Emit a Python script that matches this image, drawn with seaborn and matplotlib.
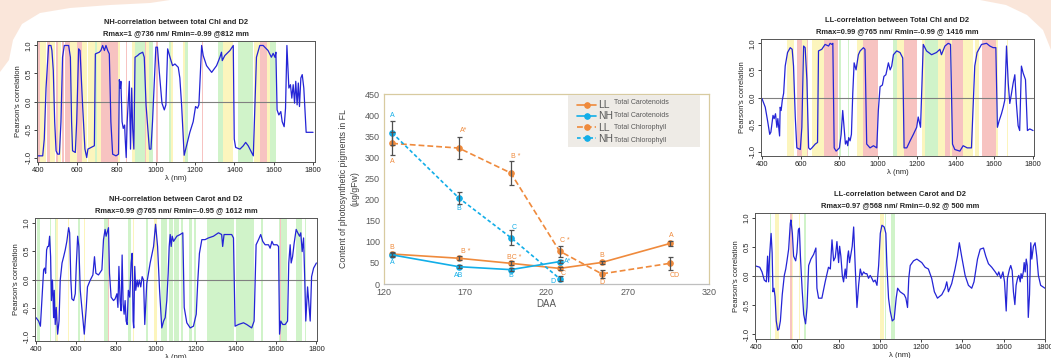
import numpy as np
import pandas as pd
import matplotlib
matplotlib.use("Agg")
import matplotlib.pyplot as plt
import seaborn as sns
from matplotlib.patches import Rectangle, Polygon

sns.set_style("white")
plt.rcParams['font.family'] = ['Liberation Sans', 'DejaVu Sans']

# ---------------- centre chart: pigments vs DAA ----------------
daa = [125, 166, 198, 228, 254, 296]
ll_carot = [71, 61, 49, 37, 51, 96]
ll_carot_err = [5, 5, 5, 4, 4, 5]
nh_carot = [69, 41, 34, 53]
nh_carot_err = [5, 4, 3, 4]
ll_chl = [333, 322, 263, 78, 24, 49]
ll_chl_err = [28, 27, 28, 13, 9, 16]
nh_chl = [358, 204, 110, 13]
nh_chl_err = [28, 15, 17, 5]

# letters (x, y, text, series)
letters = [
    (125, 399, "A", "NH"), (125, 290, "A", "LL"), (125, 86, "B", "LL"), (125, 50, "A", "NH"),
    (169, 363, "A*", "LL"), (166, 179, "B", "NH"), (170, 77, "B *", "LL"), (166, 21, "AB", "NH"),
    (201, 302, "B *", "LL"), (200, 133, "C", "NH"), (200, 62, "BC *", "LL"), (198, 20, "B", "NH"),
    (231, 102, "C *", "LL"), (230, 24, "C", "LL"), (224, 7, "D", "NH"), (233, 53, "A*", "NH"),
    (254, 67, "B", "LL"), (254, 4, "D", "LL"), (297, 114, "A", "LL"), (299, 21, "CD", "LL"),
]

# ---------------- correlation spectra ----------------
wl1 = [400, 424, 432, 441, 454, 466, 471, 478, 485, 492, 500, 509, 517, 525, 534, 556, 565, 571, 576, 590,
       597, 607, 614, 627, 639, 648, 654, 670, 687, 692, 712, 720, 729, 738, 746, 755, 763, 771, 780, 797,
       810, 814, 819, 822, 828, 834, 841, 844, 849, 854, 865, 871, 877, 882, 888, 894, 907, 916, 933, 941,
       950, 967, 975, 983, 1000, 1008, 1017, 1031, 1043, 1051, 1060, 1072, 1085, 1097, 1114, 1122, 1131,
       1144, 1156, 1173, 1190, 1202, 1212, 1219, 1233, 1241, 1258, 1284, 1309, 1326, 1334, 1338, 1351,
       1377, 1394, 1399, 1406, 1428, 1445, 1457, 1470, 1487, 1496, 1512, 1529, 1546, 1571, 1588, 1597,
       1606, 1611, 1617, 1626, 1636, 1643, 1653, 1660, 1667, 1677, 1685, 1692, 1699, 1706, 1712, 1719,
       1725, 1731, 1738, 1745, 1753, 1765, 1790, 1800]
r1 = [-0.97, -0.97, -0.67, 0.24, 1.0, 1.0, 0.91, 0.55, -0.36, -0.88, -0.94, -0.94, -0.36, 0.79, 1.0, 1.0,
      0.79, -0.36, -0.88, -0.91, -0.36, 0.94, 0.91, -0.06, -0.85, -1.0, -0.85, -0.82, -0.79, 0.85, 0.88,
      0.91, 1.0, 0.91, 1.0, 0.91, 0.85, -0.36, -0.94, -0.97, -0.94, 0.39, 0.24, 0.36, -0.36, -0.48, -0.42,
      -0.67, -1.0, -0.36, 0.36, -0.85, 0.24, -0.48, -0.85, 0.79, 0.82, 0.85, 0.88, 0.79, -0.06, -0.85,
      -0.85, -0.36, 0.97, 0.97, 0.55, -0.03, -0.15, -0.06, 0.94, 0.79, 0.64, 0.67, 0.61, 0.42, -0.06,
      -0.96, -0.79, -0.55, -0.36, -0.09, -0.12, -0.06, 1.0, 0.82, 0.64, 0.52, 0.64, 0.79, 0.88, 0.73, 0.82,
      0.91, 1.0, -0.67, -0.82, -0.85, -0.79, -0.73, -0.79, -0.91, -0.97, 0.79, 1.0, 1.0, 0.91, 0.79, 0.86,
      0.79, 0.88, -0.15, -0.24, -0.18, -0.36, -0.45, -0.12, 1.0, 0.24, 0.30, 0.06, 0.30, -0.03, 0.36,
      -0.06, 0.33, -0.09, 0.42, 0.48, 0.24, -0.55, -0.55, -0.55]
red1 = [(400, 412), (445, 462), (490, 500), (520, 530), (540, 565), (600, 625), (722, 808), (848, 853),
        (945, 952), (1000, 1012), (1236, 1242), (1530, 1565), (1665, 1669)]
yel1 = [(412, 440), (462, 488), (500, 518), (565, 598), (625, 650), (655, 720), (808, 818), (880, 892),
        (952, 965), (1075, 1088), (1140, 1148), (1340, 1395), (1500, 1530), (1565, 1580)]
grn1 = [(692, 700), (895, 945), (965, 985), (1065, 1075), (1148, 1165), (1315, 1340), (1420, 1495),
        (1580, 1612)]

wl2 = [400, 413, 422, 430, 438, 443, 448, 453, 458, 463, 468, 473, 477, 482, 485, 488, 491, 496, 501, 508,
       515, 521, 530, 538, 546, 554, 563, 568, 574, 579, 588, 596, 601, 608, 614, 621, 629, 641, 651, 657,
       671, 684, 692, 699, 712, 729, 737, 745, 750, 757, 762, 767, 775, 787, 795, 804, 809, 814, 820, 825,
       830, 835, 840, 845, 850, 855, 861, 868, 875, 880, 885, 888, 893, 898, 905, 910, 916, 923, 930, 937,
       943, 953, 970, 987, 997, 1007, 1017, 1028, 1037, 1045, 1053, 1060, 1065, 1070, 1075, 1080, 1087,
       1103, 1120, 1133, 1140, 1153, 1170, 1186, 1200, 1208, 1216, 1228, 1244, 1261, 1286, 1311, 1327,
       1332, 1339, 1352, 1377, 1386, 1394, 1411, 1436, 1452, 1477, 1489, 1499, 1511, 1522, 1532, 1544,
       1561, 1569, 1578, 1586, 1603, 1611, 1616, 1622, 1632, 1644, 1656, 1662, 1669, 1674, 1681, 1689,
       1699, 1707, 1716, 1722, 1729, 1736, 1742, 1747, 1756, 1764, 1769, 1776, 1786, 1800]
r2 = [-0.67, -0.73, -0.82, -0.31, 0.17, 0.20, 0.11, 0.52, 0.58, 0.58, 0.76, 0.40, -0.37, -0.01, -0.31,
      -0.67, -0.19, -0.79, -0.49, -0.96, -0.73, -0.01, 0.29, 0.40, 0.52, 0.67, 0.91, 0.82, -0.01, -0.34,
      -0.37, -0.25, 0.23, 0.76, 0.58, -0.19, -0.49, -0.96, -0.49, -0.13, -0.01, 0.08, 0.40, 0.11, 0.08,
      0.17, 0.70, 0.88, 0.76, 0.85, 0.91, 0.11, -0.31, -0.37, -0.34, -0.25, -0.49, 0.23, -0.37, -0.55,
      0.43, -0.43, -0.61, -0.37, -0.73, -0.79, -0.19, -0.31, 0.29, 0.46, -0.73, -0.85, 0.23, -0.19, -0.01,
      -0.13, -0.01, -0.13, 0.05, -0.01, -0.79, -0.07, 0.29, 0.58, 0.97, 0.58, -0.19, -0.85, -0.73, -0.67,
      -0.37, 0.11, 0.58, 0.79, 0.58, 0.76, 0.67, 0.76, 0.79, 0.82, -0.49, -0.76, -0.85, -0.82, -0.61,
      -0.01, 0.46, 0.70, 0.70, 0.73, 0.76, 0.82, 0.79, 0.58, 0.79, 0.79, 0.79, 0.73, -0.82, -0.79, -0.76,
      -0.79, -0.85, -0.73, 0.61, 0.70, 0.79, 0.67, 0.61, 0.61, 0.55, 0.67, 0.61, 0.61, 0.58, -0.96, -0.73,
      -0.79, -0.79, -0.73, 0.29, 0.61, 0.29, 0.40, 0.64, 0.88, 0.82, 0.76, 0.82, 0.49, 0.73, -0.01, -0.73,
      -0.13, -0.49, -0.73, 0.05, 0.20, 0.29]
red2 = [(760, 765), (1620, 1624)]
yel2 = [(501, 508), (562, 567), (640, 644), (748, 752), (885, 890), (990, 1003), (1475, 1480), (1702, 1708)]
grn2 = [(405, 422), (468, 473), (493, 500), (608, 618), (740, 758), (860, 875), (950, 958), (1025, 1053),
        (1062, 1085), (1090, 1115), (1125, 1135), (1165, 1180), (1190, 1200), (1253, 1390), (1400, 1490),
        (1522, 1532), (1611, 1652), (1700, 1726), (1745, 1748)]

wl3 = [400, 417, 429, 440, 446, 457, 463, 470, 477, 482, 491, 494, 499, 505, 512, 520, 532, 546, 556, 563,
       572, 580, 598, 606, 615, 623, 632, 641, 649, 658, 675, 687, 692, 709, 726, 744, 752, 761, 766, 773,
       783, 800, 809, 817, 824, 831, 838, 843, 848, 855, 862, 869, 876, 886, 898, 907, 924, 932, 941, 958,
       976, 993, 1001, 1010, 1022, 1030, 1040, 1053, 1062, 1070, 1079, 1096, 1113, 1127, 1134, 1148, 1165,
       1182, 1199, 1207, 1219, 1233, 1250, 1276, 1301, 1319, 1327, 1345, 1362, 1374, 1384, 1396, 1422,
       1439, 1460, 1482, 1499, 1511, 1534, 1560, 1577, 1594, 1608, 1616, 1625, 1637, 1646, 1654, 1663,
       1672, 1680, 1689, 1697, 1706, 1714, 1723, 1731, 1740, 1749, 1761, 1771, 1783, 1800]
r3 = [-0.02, -0.18, -0.43, -0.68, -0.64, -0.33, -0.39, -0.30, -0.55, -0.39, -0.71, -0.18, -0.24, -0.05,
      0.08, 0.58, 0.83, 0.92, 0.89, 0.58, -0.36, -0.93, -0.96, -0.55, 0.95, 0.92, 0.33, -0.93, -0.96, -0.93,
      -0.86, -0.83, 0.86, 0.89, 0.98, 0.95, 1.0, 0.98, 1.0, -0.93, -0.99, -0.93, -0.68, -0.24, -0.55, -0.86,
      -0.80, -0.89, -0.74, -0.80, -0.68, 0.08, 0.64, 0.51, 0.79, 0.86, 0.92, 0.89, -0.86, -0.93, -0.89,
      -0.93, -0.24, 0.20, 0.23, 0.39, 0.42, 0.64, 0.51, 0.58, 0.79, 0.86, 0.83, 0.73, -0.93, -0.93, -0.80,
      -0.68, -0.55, -0.36, -0.55, 0.98, 0.86, 0.79, 0.83, 0.89, 0.79, 0.95, 1.0, 0.98, -0.86, -0.96, -0.99,
      -0.89, -0.93, -0.93, 0.58, 0.83, 0.98, 1.0, 0.95, 0.92, 0.92, -0.55, -0.43, -0.30, -0.18, -0.05,
      0.95, 0.26, -0.11, 0.08, 0.26, 0.42, -0.11, -0.52, -0.61, 0.58, 0.45, 0.33, -0.61, -0.58, -0.61]
red3 = [(580, 606), (632, 640), (718, 795), (924, 1000), (1134, 1199), (1345, 1371), (1379, 1439),
        (1534, 1611)]
yel3 = [(529, 563), (606, 632), (658, 718), (889, 924), (1096, 1134), (1225, 1242), (1310, 1345),
        (1371, 1379), (1439, 1490), (1500, 1520), (1611, 1618), (1663, 1672)]
grn3 = [(491, 494), (800, 806), (845, 850), (1079, 1096), (1180, 1190), (1242, 1310)]

wl4 = [400, 418, 429, 440, 450, 456, 461, 466, 473, 478, 482, 487, 492, 498, 505, 511, 518, 527, 537, 544,
       550, 558, 566, 569, 576, 582, 592, 598, 605, 610, 615, 623, 631, 640, 647, 655, 666, 679, 690, 695,
       703, 719, 735, 751, 760, 768, 776, 784, 792, 800, 805, 811, 818, 824, 832, 837, 844, 848, 853, 858,
       866, 873, 881, 889, 897, 905, 913, 921, 929, 937, 945, 953, 961, 969, 977, 986, 994, 1002, 1010,
       1021, 1029, 1034, 1042, 1050, 1060, 1069, 1079, 1086, 1098, 1106, 1118, 1126, 1134, 1140, 1147,
       1163, 1179, 1203, 1219, 1235, 1251, 1264, 1279, 1300, 1316, 1324, 1332, 1348, 1364, 1376, 1385,
       1396, 1413, 1429, 1445, 1456, 1473, 1486, 1502, 1513, 1526, 1542, 1559, 1570, 1576, 1586, 1596,
       1604, 1612, 1618, 1628, 1634, 1641, 1647, 1654, 1660, 1667, 1673, 1680, 1684, 1689, 1695, 1699,
       1704, 1709, 1714, 1719, 1725, 1731, 1736, 1744, 1752, 1760, 1768, 1779, 1800]
r4 = [0.17, 0.15, 0.07, -0.07, -0.10, 0.34, -0.10, 0.37, 0.73, 0.40, -0.27, -0.21, -0.35, -0.77, -0.93,
      -0.91, -0.77, -0.32, 0.01, 0.12, 0.26, 0.46, 0.90, 0.96, 0.73, 0.34, 0.26, 0.40, 0.79, 0.82, 0.34,
      -0.21, -0.66, -0.82, -0.54, 0.18, 0.29, 0.37, 0.48, -0.21, -0.38, -0.38, -0.10, 0.15, 0.12, 0.62,
      0.26, 0.32, 0.59, 0.23, 0.51, 0.34, 0.01, -0.10, 0.12, -0.04, 0.34, 0.43, 0.23, 0.34, 0.51, 0.84,
      0.12, -0.54, -0.16, 0.12, 0.01, 0.07, 0.04, 0.04, -0.04, 0.01, -0.04, -0.10, -0.07, -0.16, 0.18,
      0.73, 0.87, 0.84, 0.73, 0.18, -0.38, -0.60, -0.77, -0.74, -0.38, -0.21, -0.27, -0.29, -0.32, -0.38,
      -0.54, -0.04, 0.18, 0.26, 0.29, 0.23, 0.15, 0.12, -0.04, -0.27, -0.38, -0.32, -0.21, -0.10, -0.27,
      -0.13, 0.12, 0.34, 0.57, 0.34, 0.01, -0.16, -0.21, -0.10, 0.29, 0.46, 0.48, 0.34, 0.21, 0.15, 0.07,
      0.01, 0.07, -0.04, 0.07, -0.10, -0.60, -0.04, 0.12, 0.18, 0.09, -0.27, -0.49, -0.16, -0.04, 0.01,
      -0.10, 0.04, -0.04, 0.07, 0.23, 0.07, 0.29, 0.18, -0.71, -0.32, 0.57, 0.29, 0.51, 0.57, 0.34, 0.01,
      -0.16, -0.21]
red4 = [(565, 573)]
yel4 = [(492, 512), (572, 580), (608, 612), (999, 1022)]
grn4 = [(467, 471), (631, 640), (874, 877), (1026, 1030), (1053, 1074)]

W, H = 1051, 358
fig = plt.figure(figsize=(W / 100, H / 100), dpi=100)


# faint slide decoration in the top corners (pixel coords, origin top-left)
def corner_shape(pts, color, alpha):
    xy = [(x / W, 1 - y / H) for x, y in pts]
    fig.patches.append(Polygon(xy, closed=True, transform=fig.transFigure, facecolor=color,
                               edgecolor="none", alpha=alpha, zorder=0))


corner_shape([(0, 0), (170, 0), (150, 3), (110, 5), (70, 8), (40, 13), (22, 24), (13, 40), (9, 60),
              (0, 72)], "#f7d6c2", 0.6)
corner_shape([(980, 0), (1051, 0), (1051, 50), (1043, 30), (1027, 15), (1006, 5)], "#f7d6c2", 0.6)


def px_axes(left, top, right, bottom):
    return fig.add_axes([left / W, 1 - bottom / H, (right - left) / W, (bottom - top) / H])


BAND_COLORS = {"red": "#f7c3c1", "yel": "#fcf5bd", "grn": "#d0f3c9"}


def corr_panel(ax, wl, r, red, yel, grn, title, xlim):
    for name, bands in (("yel", yel), ("grn", grn), ("red", red)):
        for a, b in bands:
            ax.axvspan(a, b, color=BAND_COLORS[name], lw=0, zorder=0)
    ax.axhline(0, color="#808080", lw=0.8, zorder=1)
    df = pd.DataFrame({"wl": wl, "r": r})
    sns.lineplot(data=df, x="wl", y="r", ax=ax, color="#2424d6", lw=0.9, sort=False, zorder=2)
    ax.set_xlim(*xlim)
    ax.set_ylim(-1.08, 1.08)
    ax.set_xticks(range(400, 1801, 200))
    ax.set_yticks([-1.0, -0.5, 0.0, 0.5, 1.0])
    ax.set_yticklabels(["-1.0", "-0.5", "0.0", "0.5", "1.0"])
    ax.tick_params(axis="both", labelsize=5.5, length=2.2, width=0.6, pad=1.2, colors="#222222",
                   bottom=True, left=True, direction="out")
    ax.tick_params(axis="y", labelrotation=90)
    for lab in ax.get_yticklabels():
        lab.set_va("center")
    for s in ax.spines.values():
        s.set_color("#555555")
        s.set_linewidth(0.7)
    ax.set_xlabel("λ (nm)", fontsize=5.5, labelpad=0.8)
    ax.set_ylabel("Pearson's correlation", fontsize=5.5, labelpad=2)
    ax.set_title(title, fontsize=5.4, fontweight="bold", pad=4.2, linespacing=1.75)
    ax.set_facecolor("white")


ax1 = px_axes(37, 41, 315, 162)
corr_panel(ax1, wl1, r1, red1, yel1, grn1,
           "NH-correlation between total Chl and D2\nRmax=1 @736 nm/ Rmin=-0.99 @812 mm", (395, 1810))
ax2 = px_axes(35, 218, 317, 341)
corr_panel(ax2, wl2, r2, red2, yel2, grn2,
           "NH-correlation between Carot and D2\nRmax=0.99 @765 nm/ Rmin=-0.95 @ 1612 mm", (395, 1803))
ax3 = px_axes(761, 39, 1034, 156)
corr_panel(ax3, wl3, r3, red3, yel3, grn3,
           "LL-correlation between Total Chl and D2\nRmax=0.99 @765 nm/ Rmin=-0.99 @ 1416 mm", (395, 1805))
ax4 = px_axes(755, 213, 1045, 339)
corr_panel(ax4, wl4, r4, red4, yel4, grn4,
           "LL-correlation between Carot and D2\nRmax=0.97 @568 nm/ Rmin=-0.92 @ 500 mm", (395, 1800))

# ---------------- centre chart ----------------
ORANGE = "#ef8a3c"
BLUE = "#12aee8"
axc = px_axes(384, 94, 709, 284)
sns.lineplot(x=daa, y=ll_carot, ax=axc, color=ORANGE, lw=1.2, marker="o", markersize=4,
             markeredgecolor=ORANGE, label="LL")
sns.lineplot(x=daa[:4], y=nh_carot, ax=axc, color=BLUE, lw=1.2, marker="o", markersize=4,
             markeredgecolor=BLUE, label="NH")
sns.lineplot(x=daa, y=ll_chl, ax=axc, color=ORANGE, lw=1.2, marker="o", markersize=4,
             markeredgecolor=ORANGE, label="LL").lines[-1].set_dashes((3.5, 1.8))
sns.lineplot(x=daa[:4], y=nh_chl, ax=axc, color=BLUE, lw=1.2, marker="o", markersize=4,
             markeredgecolor=BLUE, label="NH").lines[-1].set_dashes((2.2, 1.5))
ebkw = dict(fmt="none", ecolor="#505050", elinewidth=0.9, capsize=1.8, capthick=0.9, zorder=5)
axc.errorbar(daa, ll_chl, yerr=ll_chl_err, **ebkw)
axc.errorbar(daa[:4], nh_chl, yerr=nh_chl_err, **ebkw)
axc.errorbar(daa, ll_carot, yerr=ll_carot_err, **ebkw)
axc.errorbar(daa[:4], nh_carot, yerr=nh_carot_err, **ebkw)

for x, y, txt, s in letters:
    axc.text(x, y, txt, fontsize=5, color=ORANGE if s == "LL" else BLUE, ha="center", va="center")

axc.set_xlim(120, 320)
axc.set_ylim(0, 450)
axc.set_xticks(range(120, 321, 50))
axc.set_yticks(range(0, 451, 50))
axc.tick_params(labelsize=6.5, length=0, pad=3, colors="#595959")
for side in ("left", "top", "right"):
    axc.spines[side].set_color("#d8cba0")
    axc.spines[side].set_linewidth(0.9)
axc.spines["bottom"].set_color("#bfbfbf")
axc.spines["bottom"].set_linewidth(0.9)
axc.set_xlabel("DAA", fontsize=7, color="#595959", labelpad=1)
axc.set_ylabel("Content of photosynthetic pigments in FL\n(µg/gFw)", fontsize=6.3, color="#404040",
               labelpad=4, linespacing=1.3)

axc.add_patch(Rectangle((0.566, 0.721), 0.406, 0.274, transform=axc.transAxes,
                        facecolor="#eeebe6", edgecolor="none", zorder=6))
leg = axc.legend(loc="upper left", bbox_to_anchor=(0.575, 1.0), frameon=False, fontsize=7.5,
                 handlelength=1.8, handletextpad=0.25, labelspacing=0.12, borderaxespad=0.2)
leg.set_zorder(7)
for lt in leg.get_texts():
    lt.set_color("#595959")
descr = ["Total Carotenoids", "Total Carotenoids", "Total Chlorophyll", "Total Chlorophyll"]
for i, d in enumerate(descr):
    axc.text(0.708, 0.955 - i * 0.066, d, transform=axc.transAxes, fontsize=5, color="#595959",
             va="center", zorder=8)

fig.savefig("out.png", dpi=100, facecolor="white")
